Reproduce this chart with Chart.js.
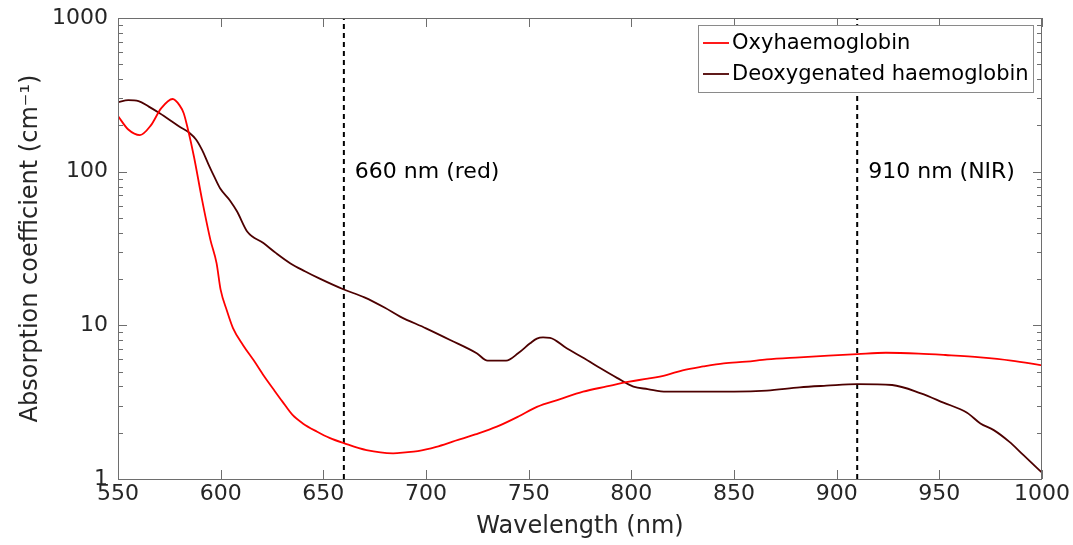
<!DOCTYPE html>
<html>
<head>
<meta charset="utf-8">
<script src="https://cdn.jsdelivr.net/npm/chart.js@4/dist/chart.umd.min.js"></script>
<style>
  html, body { margin: 0; padding: 0; background: #fff; }
  #wrap { width: 1073px; height: 545px; }
</style>
</head>
<body>
<div id="wrap"><canvas id="c" width="1073" height="545"></canvas></div>
<script>
// ---- data ----
const oxyWavelength = [550, 555, 560.7, 566, 571, 576.6, 580, 582, 584, 587, 591, 595, 598, 600, 603, 606, 611, 616, 621, 626, 630, 635, 640, 647, 653, 660, 671, 684, 690, 696, 705, 713, 724, 734.5, 745, 754, 765, 776.5, 788, 799, 808, 817, 825, 835, 845, 856, 866, 882, 896, 910, 924, 940, 953, 970, 985, 1000];
const oxyValues = [230, 188, 173, 200, 258, 297, 270, 240, 190, 125, 65, 36, 25.4, 17, 12.5, 9.6, 7.4, 5.94, 4.7, 3.79, 3.2, 2.61, 2.3, 2.03, 1.85, 1.71, 1.54, 1.47, 1.49, 1.52, 1.62, 1.75, 1.95, 2.19, 2.55, 2.95, 3.3, 3.7, 4.0, 4.3, 4.5, 4.75, 5.1, 5.4, 5.66, 5.8, 6.0, 6.19, 6.35, 6.5, 6.63, 6.55, 6.41, 6.19, 5.9, 5.49];

const deoxyWavelength = [550, 555, 560, 565, 570.5, 575, 580, 585, 588, 591, 594, 597, 599.7, 604.5, 608, 613, 620.8, 627, 634, 641, 648, 660, 670, 680, 687.4, 700, 712, 724.7, 730, 739, 745, 750.7, 754, 757, 760.4, 768.5, 777, 785, 793, 801, 808, 817, 835, 850, 866, 882, 895, 910, 927, 941, 952, 963.5, 970, 976.5, 984, 991, 1000];
const deoxyValues = [284, 292, 288, 265, 239, 218, 196, 178, 162, 138, 112, 92, 78, 65, 55, 40.6, 34.3, 29.5, 25.3, 22.5, 20.2, 17.1, 15.2, 13.0, 11.4, 9.56, 8.0, 6.58, 5.89, 5.89, 6.6, 7.64, 8.2, 8.35, 8.3, 7.09, 6.1, 5.25, 4.55, 3.99, 3.85, 3.70, 3.70, 3.70, 3.76, 3.95, 4.05, 4.15, 4.09, 3.61, 3.14, 2.70, 2.30, 2.08, 1.75, 1.43, 1.10];

const seriesNames = ['Oxyhaemoglobin', 'Deoxygenated haemoglobin'];
const xTickValues = [550, 600, 650, 700, 750, 800, 850, 900, 950, 1000];
const yTickValues = [1, 10, 100, 1000];
const markerWavelengths = [660, 910];
const markerLabels = ['660 nm (red)', '910 nm (NIR)'];
const xTitle = 'Wavelength (nm)';
const yTitle = 'Absorption coefficient (cm\u207B\u00B9)';

// ---- styling ----
const FONT = "'DejaVu Sans', sans-serif";
const TEXT = '#262626';
const AXIS = '#6e6e6e';
const colors = ['#ff0000', '#4d0000'];

function pairs(xs, ys) { return xs.map((x, i) => ({ x: x, y: ys[i] })); }

// minor log ticks (1..9 per decade)
function logTicks() {
  const out = [];
  for (let d = 0; d < yTickValues.length - 1; d++) {
    const base = yTickValues[d];
    for (let k = 1; k < 10; k++) out.push(base * k);
  }
  out.push(yTickValues[yTickValues.length - 1]);
  return out;
}

const datasets = [
  { label: seriesNames[0], data: pairs(oxyWavelength, oxyValues), borderColor: colors[0], borderWidth: 1.8, pointRadius: 0, cubicInterpolationMode: 'monotone', fill: false },
  { label: seriesNames[1], data: pairs(deoxyWavelength, deoxyValues), borderColor: colors[1], borderWidth: 1.8, pointRadius: 0, cubicInterpolationMode: 'monotone', fill: false }
];
markerWavelengths.forEach((w) => {
  datasets.push({ label: '', isMarker: true, data: [{ x: w, y: yTickValues[0] }, { x: w, y: yTickValues[yTickValues.length - 1] }], borderColor: '#000', borderWidth: 2, borderDash: [5, 4], pointRadius: 0, fill: false });
});

const framePlugin = {
  id: 'frame',
  afterDatasetsDraw(chart) {
    const { ctx, chartArea: a, scales } = chart;
    const xs = scales.x, ys = scales.y;
    ctx.save();
    ctx.strokeStyle = AXIS;
    ctx.lineWidth = 1;
    // frame
    ctx.strokeRect(Math.round(a.left) + 0.5, Math.round(a.top) + 0.5, Math.round(a.right - a.left) - 1, Math.round(a.bottom - a.top));
    ctx.beginPath();
    // x ticks (bottom + top), inward
    xTickValues.forEach((v) => {
      const px = Math.round(xs.getPixelForValue(v)) + 0.5;
      ctx.moveTo(px, a.bottom); ctx.lineTo(px, a.bottom - 9);
      ctx.moveTo(px, a.top); ctx.lineTo(px, a.top + 9);
    });
    // y ticks (left + right), inward; majors longer
    logTicks().forEach((v) => {
      const py = Math.round(ys.getPixelForValue(v)) + 0.5;
      const len = yTickValues.includes(v) ? 9 : 5;
      ctx.moveTo(a.left, py); ctx.lineTo(a.left + len, py);
      ctx.moveTo(a.right, py); ctx.lineTo(a.right - len, py);
    });
    ctx.stroke();

    // marker labels
    ctx.fillStyle = '#000';
    ctx.font = '22px ' + FONT;
    ctx.textAlign = 'left';
    ctx.textBaseline = 'middle';
    markerWavelengths.forEach((w, i) => {
      ctx.fillText(markerLabels[i], xs.getPixelForValue(w) + 11, ys.getPixelForValue(100) + 1);
    });

    // legend box inside plot
    const lx = 698, ly = 25, lw = 335, lh = 67;
    ctx.fillStyle = '#fff';
    ctx.fillRect(lx, ly, lw, lh);
    ctx.strokeStyle = '#8a8a8a';
    ctx.strokeRect(lx + 0.5, ly + 0.5, lw, lh);
    ctx.font = '21px ' + FONT;
    ctx.fillStyle = '#000';
    const rows = [43, 74];
    seriesNames.forEach((name, i) => {
      ctx.strokeStyle = colors[i];
      ctx.lineWidth = 1.8;
      ctx.beginPath();
      ctx.moveTo(703, rows[i]); ctx.lineTo(729, rows[i]);
      ctx.stroke();
      ctx.fillText(name, 732, rows[i] + 1);
    });
    ctx.restore();
  }
};

new Chart(document.getElementById('c'), {
  type: 'line',
  data: { datasets: datasets },
  options: {
    responsive: false,
    animation: false,
    devicePixelRatio: 1,
    layout: { padding: { top: 18, right: 31, left: 0, bottom: 0 } },
    plugins: { legend: { display: false }, tooltip: { enabled: false } },
    elements: { line: { tension: 0 } },
    scales: {
      x: {
        type: 'linear', min: 550, max: 1000,
        afterBuildTicks: (s) => { s.ticks = xTickValues.map((v) => ({ value: v })); },
        ticks: { color: TEXT, font: { family: FONT, size: 22 }, padding: 2, maxRotation: 0, autoSkip: false, callback: (v) => String(v) },
        grid: { display: true, drawOnChartArea: false, drawTicks: false, color: 'rgba(0,0,0,0)' },
        border: { display: false },
        title: { display: true, text: xTitle, color: TEXT, font: { family: FONT, size: 24 }, padding: { top: 0, bottom: 4 } },
        afterFit: (s) => { s.height = 66; s.paddingLeft = 0; s.paddingRight = 0; }
      },
      y: {
        type: 'logarithmic', min: 1, max: 1000,
        afterBuildTicks: (s) => { s.ticks = logTicks().map((v) => ({ value: v })); },
        ticks: { color: TEXT, font: { family: FONT, size: 22 }, padding: 10, autoSkip: false, callback: (v) => (yTickValues.includes(v) ? String(v) : '') },
        grid: { display: true, drawOnChartArea: false, drawTicks: false, color: 'rgba(0,0,0,0)' },
        border: { display: false },
        title: { display: true, text: yTitle, color: TEXT, font: { family: FONT, size: 24 }, padding: { top: 16, bottom: 0 } },
        afterFit: (s) => { s.width = 118; s.paddingTop = 0; s.paddingBottom = 0; }
      }
    }
  },
  plugins: [framePlugin]
});
</script>
</body>
</html>
